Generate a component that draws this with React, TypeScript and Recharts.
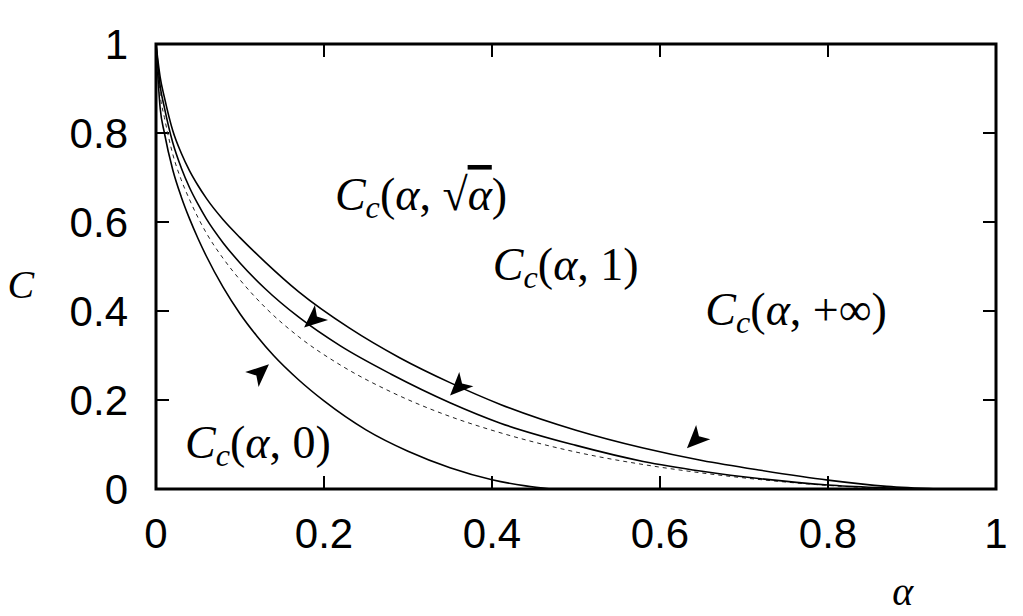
import React from 'react';
import { LineChart, Line, XAxis, YAxis, ReferenceArea, ReferenceLine, ReferenceDot } from 'recharts';

// C_c(alpha, 0) — lowest solid curve
const alphaLow = [0, 0.005, 0.01, 0.02, 0.03, 0.04, 0.05, 0.06, 0.08, 0.1, 0.12, 0.14, 0.17, 0.2, 0.25, 0.3, 0.35, 0.4, 0.44, 0.47];
const cLow = [1, 0.855, 0.8, 0.717, 0.657, 0.607, 0.563, 0.523, 0.453, 0.394, 0.344, 0.3, 0.245, 0.198, 0.133, 0.085, 0.048, 0.021, 0.007, 0];

// dashed curve
const alphaDash = [0, 0.005, 0.01, 0.02, 0.03, 0.04, 0.05, 0.06, 0.08, 0.1, 0.13, 0.17, 0.22, 0.28, 0.35, 0.4, 0.5, 0.59, 0.65, 0.72, 0.8, 0.86, 0.9];
const cDash = [1, 0.885, 0.835, 0.752, 0.695, 0.65, 0.61, 0.575, 0.518, 0.47, 0.408, 0.342, 0.278, 0.218, 0.163, 0.132, 0.083, 0.052, 0.036, 0.021, 0.008, 0.002, 0];

// middle solid curve
const alphaMid = [0, 0.005, 0.01, 0.02, 0.03, 0.04, 0.05, 0.06, 0.08, 0.1, 0.13, 0.17, 0.22, 0.28, 0.35, 0.41, 0.5, 0.58, 0.65, 0.72, 0.8, 0.86, 0.9];
const cMid = [1, 0.905, 0.857, 0.778, 0.722, 0.677, 0.64, 0.607, 0.553, 0.508, 0.45, 0.386, 0.321, 0.258, 0.194, 0.148, 0.098, 0.062, 0.04, 0.023, 0.009, 0.003, 0];

// top solid curve
const alphaTop = [0, 0.005, 0.01, 0.02, 0.03, 0.04, 0.05, 0.06, 0.08, 0.1, 0.13, 0.17, 0.23, 0.29, 0.35, 0.41, 0.5, 0.58, 0.65, 0.72, 0.8, 0.87, 0.93];
const cTop = [1, 0.925, 0.88, 0.805, 0.755, 0.715, 0.682, 0.653, 0.605, 0.565, 0.51, 0.443, 0.362, 0.295, 0.239, 0.19, 0.132, 0.092, 0.064, 0.042, 0.02, 0.006, 0];

// flow arrows
const arrowAlpha = [0.188, 0.123, 0.361, 0.643];
const arrowC = [0.382, 0.261, 0.231, 0.112];
const arrowAngle = [139, -42, 135, 135];

const tickValues = [0, 0.2, 0.4, 0.6, 0.8, 1];
const innerTicks = [0.2, 0.4, 0.6, 0.8];

// region labels
const labelAlpha = [0.213, 0.401, 0.654, 0.0345];
const labelC = [0.627, 0.47, 0.369, 0.07];
const labelArg = ['sqrt', '1', '+∞', '0'];

const toData = (xs: number[], ys: number[]) => xs.map((a, i) => ({ a, c: ys[i] }));
const lowData = toData(alphaLow, cLow);
const dashData = toData(alphaDash, cDash);
const midData = toData(alphaMid, cMid);
const topData = toData(alphaTop, cTop);

const serif = 'Liberation Serif';
const FS = 46;

const ArrowShape = (angle: number) => (props: any) => {
  const { cx, cy } = props;
  return (
    <path
      d="M 13 0 L -10 -10 L -4 0 L -10 10 Z"
      fill="#000"
      transform={`translate(${cx},${cy}) rotate(${angle})`}
    />
  );
};

const MathLabel = (arg: string) => (props: any) => {
  const { cx, cy } = props;
  return (
    <text x={cx} y={cy} fontFamily={serif} fontSize={FS} fill="#000">
      <tspan fontStyle="italic">C</tspan>
      <tspan fontStyle="italic" fontSize={FS * 0.7} dy={8}>c</tspan>
      <tspan dy={-8}>(</tspan>
      <tspan fontStyle="italic">α</tspan>
      <tspan>, </tspan>
      {arg === 'sqrt' ? (
        <>
          <tspan>√</tspan>
          <tspan fontStyle="italic" style={{ textDecoration: 'overline' }}>α</tspan>
        </>
      ) : (
        <tspan>{arg}</tspan>
      )}
      <tspan>)</tspan>
    </text>
  );
};

const AxisText = (txt: string) => (props: any) => {
  const { cx, cy } = props;
  return (
    <text x={cx} y={cy} fontFamily={serif} fontStyle="italic" fontSize={40} fill="#000" textAnchor="middle">
      {txt}
    </text>
  );
};

export default function App() {
  return (
    <div style={{ position: 'absolute', left: 0, top: 0, background: '#fff' }}>
      <LineChart width={1023} height={616} margin={{ top: 44, right: 27, bottom: 67, left: 0 }}>
        <XAxis
          type="number"
          dataKey="a"
          domain={[0, 1]}
          ticks={tickValues}
          tickFormatter={(v: number) => String(v)}
          axisLine={false}
          tickLine={false}
          tickMargin={23}
          height={60}
          allowDataOverflow
          tick={{ fontSize: 42, fontFamily: 'Liberation Sans', fill: '#000' }}
        />
        <YAxis
          type="number"
          dataKey="c"
          domain={[0, 1]}
          ticks={tickValues}
          tickFormatter={(v: number) => String(v)}
          axisLine={false}
          tickLine={false}
          tickMargin={22}
          width={156}
          allowDataOverflow
          tick={{ fontSize: 42, fontFamily: 'Liberation Sans', fill: '#000' }}
        />
        {innerTicks.map((t) => (
          <ReferenceLine key={`b${t}`} segment={[{ x: t, y: 0 }, { x: t, y: 0.029 }]} stroke="#000" strokeWidth={2} />
        ))}
        {innerTicks.map((t) => (
          <ReferenceLine key={`t${t}`} segment={[{ x: t, y: 1 }, { x: t, y: 0.971 }]} stroke="#000" strokeWidth={2} />
        ))}
        {innerTicks.map((t) => (
          <ReferenceLine key={`l${t}`} segment={[{ x: 0, y: t }, { x: 0.0155, y: t }]} stroke="#000" strokeWidth={2} />
        ))}
        {innerTicks.map((t) => (
          <ReferenceLine key={`r${t}`} segment={[{ x: 1, y: t }, { x: 0.9845, y: t }]} stroke="#000" strokeWidth={2} />
        ))}
        <Line data={lowData} dataKey="c" type="monotone" stroke="#000" strokeWidth={1.6} dot={false} isAnimationActive={false} />
        <Line data={dashData} dataKey="c" type="monotone" stroke="#222" strokeWidth={1} strokeDasharray="4 4" dot={false} isAnimationActive={false} />
        <Line data={midData} dataKey="c" type="monotone" stroke="#000" strokeWidth={1.6} dot={false} isAnimationActive={false} />
        <Line data={topData} dataKey="c" type="monotone" stroke="#000" strokeWidth={1.6} dot={false} isAnimationActive={false} />
        <ReferenceArea x1={0} x2={1} y1={0} y2={1} fill="none" fillOpacity={0} stroke="#000" strokeWidth={3} />
        {arrowAlpha.map((a, i) => (
          <ReferenceDot key={`ar${i}`} x={a} y={arrowC[i]} r={1} shape={ArrowShape(arrowAngle[i])} />
        ))}
        {labelAlpha.map((a, i) => (
          <ReferenceDot key={`lb${i}`} x={a} y={labelC[i]} r={1} shape={MathLabel(labelArg[i])} />
        ))}
        <ReferenceDot x={-0.161} y={0.429} r={1} ifOverflow="visible" shape={AxisText('C')} />
        <ReferenceDot x={0.889} y={-0.26} r={1} ifOverflow="visible" shape={AxisText('α')} />
      </LineChart>
    </div>
  );
}
